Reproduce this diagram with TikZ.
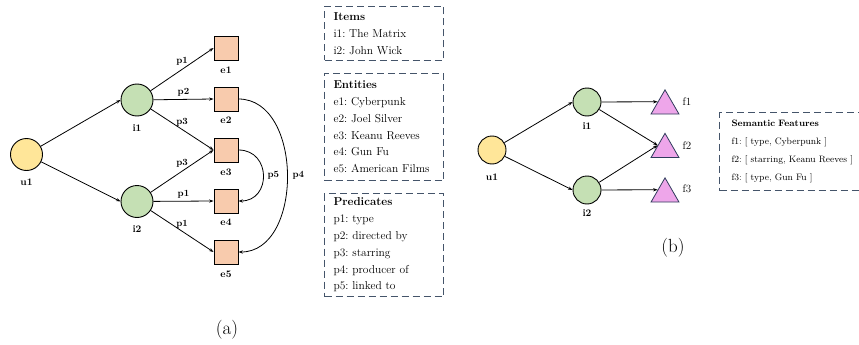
\documentclass[tikz,border=0pt]{standalone}
\usetikzlibrary{arrows.meta,shapes.geometric}
\definecolor{ufill}{HTML}{FFE699}
\definecolor{ifill}{HTML}{C5E0B4}
\definecolor{efill}{HTML}{F8CBAD}
\definecolor{ffill}{HTML}{EEA6EA}
\definecolor{fdraw}{HTML}{2F3B5C}
\definecolor{boxc}{HTML}{44546A}
\frenchspacing
\begin{document}
\begin{tikzpicture}[x=1pt,y=-1pt,
  usr/.style={circle,draw=black,line width=0.9pt,fill=ufill,inner sep=0pt},
  itm/.style={circle,draw=black,line width=0.9pt,fill=ifill,inner sep=0pt},
  ent/.style={rectangle,draw=black,line width=0.9pt,fill=efill,minimum size=24pt,inner sep=0pt},
  feat/.style={regular polygon,regular polygon sides=3,draw=fdraw,line width=0.8pt,fill=ffill,minimum size=32.3pt,inner sep=0pt},
  arr/.style={-{Stealth[length=4.5pt,width=3.2pt]},line width=0.8pt,black},
  elbl/.style={font=\fontsize{9.5}{10}\selectfont\bfseries,inner sep=2pt,text=black},
  nl/.style={font=\fontsize{10}{11}\selectfont\bfseries,inner sep=0pt,text=black},
  fl/.style={font=\fontsize{11}{12}\selectfont,inner sep=0pt,text=black},
  legend/.style={draw=boxc,dash pattern=on 7pt off 4pt,line width=1pt,align=left,anchor=north west,
    font=\fontsize{11.5}{16.8}\selectfont\frenchspacing,text=black,inner xsep=9pt,inner ysep=0pt,
    minimum width=119pt,text width=101pt},
  semleg/.style={draw=boxc,dash pattern=on 7pt off 4pt,line width=1pt,align=left,anchor=north west,
    font=\fontsize{9.3}{18}\selectfont\frenchspacing,text=black,inner xsep=12pt,inner ysep=0pt,
    minimum width=160pt,text width=136pt},
  captxt/.style={font=\fontsize{19}{22}\selectfont,inner sep=0pt}
]
\useasboundingbox (0,0) rectangle (859,345);

% ---------- (a) ----------
\node[usr,minimum size=32pt] (u1) at (26.5,154.5) {};
\node[itm,minimum size=32pt] (i1) at (137,100) {};
\node[itm,minimum size=32pt] (i2) at (137,201.5) {};
\node[ent] (e1) at (226,48) {};
\node[ent] (e2) at (226,99) {};
\node[ent] (e3) at (226,150) {};
\node[ent] (e4) at (226,201) {};
\node[ent] (e5) at (226,252) {};

\node[nl] (u1l) at (26.5,182) {u1};
\node[nl] (i1l) at (137,128) {i1};
\node[nl] (i2l) at (137,229) {i2};
\node[nl] (e1l) at (226,70) {e1};
\node[nl] (e2l) at (226,120.5) {e2};
\node[nl] (e3l) at (226,172) {e3};
\node[nl] (e4l) at (226,222.5) {e4};
\node[nl] (e5l) at (226,274) {e5};

\draw[arr] (u1) -- (i1.west);
\draw[arr] (u1) -- (i2.west);
\draw[arr] (i1) -- node[elbl,above=1.5pt] (lp1a) {p1} (e1.west);
\draw[arr] (i1) -- node[elbl,above=1pt] (lp2) {p2} (e2.west);
\draw[arr] (i1) -- node[elbl,above=1pt] (lp3a) {p3} (e3.west);
\draw[arr] (i2) -- node[elbl,above=1.5pt] (lp3b) {p3} (e3.west);
\draw[arr] (i2) -- node[elbl,above=0pt] (lp1b) {p1} (e4.west);
\draw[arr] (i2) -- node[elbl,above=1pt] (lp1c) {p1} (e5.west);
\draw[arr] (e3.east) .. controls +(33,0) and +(33,0) .. node[elbl,right=2pt] (lp5) {p5} (e4.east);
\draw[arr] (e2.east) .. controls +(65,0) and +(65,0) .. node[elbl,right=3pt] (lp4) {p4} (e5.east);

\node[captxt] (capa) at (227,330) {(a)};

% legends (a)
\node[legend,minimum height=54pt] (items) at (324,6)
  {\textbf{Items}\\ i1: The Matrix\\ i2: John Wick};
\node[legend,minimum height=107pt] (ents) at (324,73)
  {\textbf{Entities}\\ e1: Cyberpunk\\ e2: Joel Silver\\ e3: Keanu Reeves\\ e4: Gun Fu\\ e5: American Films};
\node[legend,minimum height=103pt] (preds) at (324,193)
  {\textbf{Predicates}\\ p1: type\\ p2: directed by\\ p3: starring\\ p4: producer of\\ p5: linked to};

% ---------- (b) ----------
\node[usr,minimum size=28pt] (bu1) at (492,150) {};
\node[itm,minimum size=28pt] (bi1) at (587,102) {};
\node[itm,minimum size=28pt] (bi2) at (587,190) {};
\node[feat] (f1) at (665,106) {};
\node[feat] (f2) at (665,149.5) {};
\node[feat] (f3) at (665,194) {};

\node[nl] (bu1l) at (492,177) {u1};
\node[nl] (bi1l) at (587,126) {i1};
\node[nl] (bi2l) at (587,213) {i2};
\node[fl] (f1l) at (687,102) {f1};
\node[fl] (f2l) at (687,146) {f2};
\node[fl] (f3l) at (687,189) {f3};

\draw[arr] (bu1) -- (bi1.west);
\draw[arr] (bu1) -- (bi2.west);
\draw[arr] (bi1) -- (f1.side 1);
\draw[arr] (bi1) -- (f2.side 1);
\draw[arr] (bi2) -- (f2.side 1);
\draw[arr] (bi2) -- (f3.side 1);

\node[captxt] (capb) at (673,248) {(b)};

\node[semleg,minimum height=78pt] (sem) at (719,112)
  {\textbf{Semantic Features}\\ f1: [ type, Cyberpunk ]\\ f2: [ starring, Keanu Reeves ]\\ f3: [ type, Gun Fu ]};
\end{tikzpicture}
\end{document}
